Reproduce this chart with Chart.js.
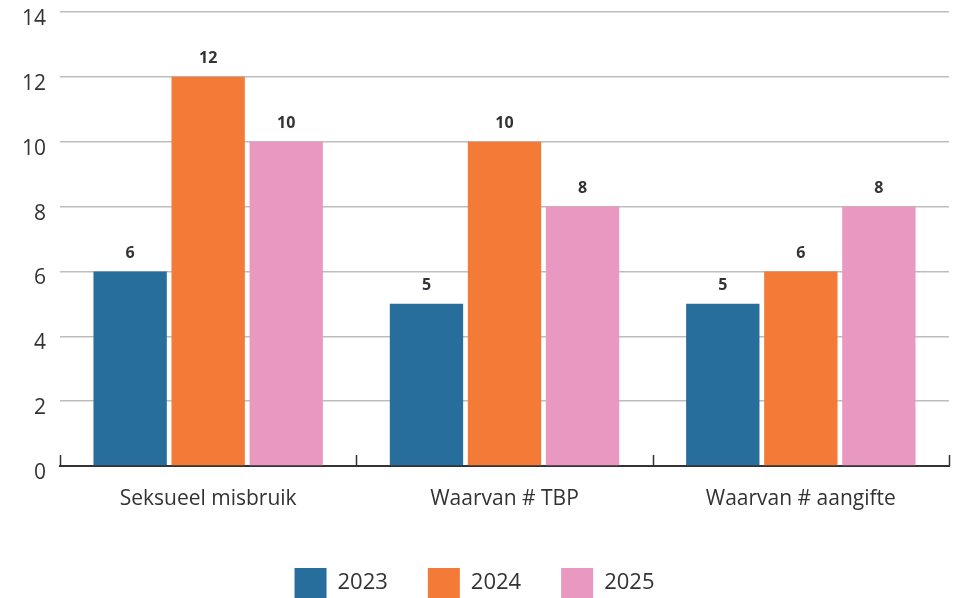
<!DOCTYPE html>
<html>
<head>
<meta charset="utf-8">
<script src="https://cdn.jsdelivr.net/npm/chart.js@4.4.1/dist/chart.umd.min.js"></script>
<style>
  html, body { margin: 0; padding: 0; background: #fff; overflow: hidden; }
  #wrap { width: 953px; height: 608px; position: relative; }
</style>
</head>
<body>
<div id="wrap"><canvas id="chart"></canvas></div>
<script>
// Chart data
const categories = ['Seksueel misbruik', 'Waarvan # TBP', 'Waarvan # aangifte'];
const seriesNames = ['2023', '2024', '2025'];
const values2023 = [6, 5, 5];
const values2024 = [12, 10, 6];
const values2025 = [10, 8, 8];
const yTicks = [0, 2, 4, 6, 8, 10, 12, 14];

const colors = ['#286e9d', '#f47a38', '#e998c2'];
const textColor = '#333333';
const fontFamily = '"Open Sans", "Noto Sans", sans-serif';

// Draw value labels above each bar
const barLabels = {
    id: 'barLabels',
    afterDatasetsDraw(chart) {
        const ctx = chart.ctx;
        ctx.save();
        ctx.font = 'bold 16px ' + fontFamily;
        ctx.fillStyle = textColor;
        ctx.textAlign = 'center';
        ctx.textBaseline = 'middle';
        chart.data.datasets.forEach((ds, i) => {
            chart.getDatasetMeta(i).data.forEach((bar, j) => {
                ctx.fillText(ds.data[j], bar.x, bar.y - 18);
            });
        });
        ctx.restore();
    }
};

// Small upward tick marks at the category boundaries on the x axis
const boundaryTicks = {
    id: 'boundaryTicks',
    afterDraw(chart) {
        const x = chart.scales.x;
        const ctx = chart.ctx;
        const bottom = chart.chartArea.bottom;
        const pts = [x.left];
        for (let i = 0; i < categories.length - 1; i++) {
            pts.push((x.getPixelForValue(i) + x.getPixelForValue(i + 1)) / 2);
        }
        pts.push(x.right);
        ctx.save();
        ctx.strokeStyle = '#333';
        ctx.lineWidth = 1.5;
        pts.forEach(px => {
            ctx.beginPath();
            ctx.moveTo(Math.round(px) + 0.5, bottom);
            ctx.lineTo(Math.round(px) + 0.5, bottom - 11);
            ctx.stroke();
        });
        ctx.restore();
    }
};

new Chart(document.getElementById('chart'), {
    type: 'bar',
    data: {
        labels: categories,
        datasets: [
            { label: seriesNames[0], data: values2023, backgroundColor: colors[0] },
            { label: seriesNames[1], data: values2024, backgroundColor: colors[1] },
            { label: seriesNames[2], data: values2025, backgroundColor: colors[2] }
        ]
    },
    options: {
        responsive: true,
        maintainAspectRatio: false,
        animation: false,
        layout: { padding: { top: 12, right: 4, left: 0, bottom: 0 } },
        datasets: {
            bar: { categoryPercentage: 0.79, barPercentage: 0.94 }
        },
        scales: {
            x: {
                grid: { display: false },
                border: { display: true, color: '#333', width: 2 },
                ticks: {
                    color: textColor,
                    font: { family: fontFamily, size: 21 },
                    padding: 12
                },
                afterFit(scale) { scale.height = 62; }
            },
            y: {
                min: 0,
                max: 14,
                afterBuildTicks(scale) { scale.ticks = yTicks.map(v => ({ value: v })); },
                grid: {
                    color: ctx => ctx.tick.value === 0 ? 'rgba(0,0,0,0)' : '#bdbdbd',
                    lineWidth: 1.5,
                    drawTicks: false
                },
                border: { display: false },
                ticks: {
                    color: textColor,
                    font: { family: fontFamily, size: 21 },
                    padding: 14,
                    labelOffset: 7
                },
                afterFit(scale) {
                    scale.width = 60;
                    scale.paddingTop = 0;
                    scale.paddingBottom = 0;
                }
            }
        },
        plugins: {
            legend: {
                position: 'bottom',
                labels: {
                    boxWidth: 32,
                    boxHeight: 30,
                    padding: 40,
                    color: textColor,
                    font: { family: fontFamily, size: 22 }
                }
            },
            tooltip: { enabled: false }
        }
    },
    plugins: [barLabels, boundaryTicks]
});
</script>
</body>
</html>
